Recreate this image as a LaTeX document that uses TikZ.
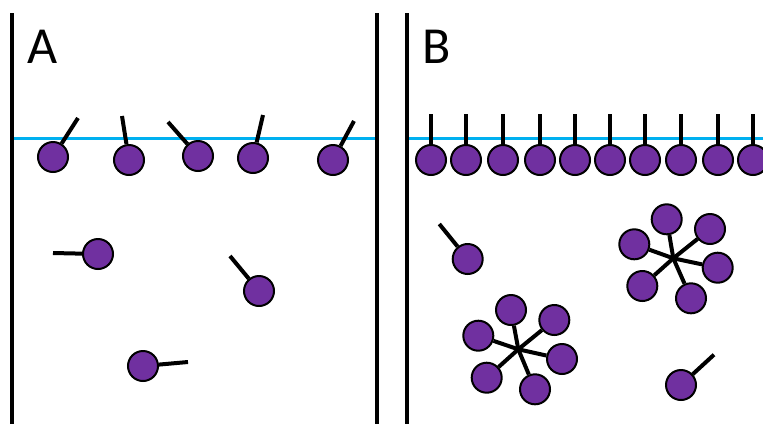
\documentclass[tikz,border=0pt]{standalone}
\usepackage{fontspec}
\setmainfont{Carlito}
\definecolor{headfill}{HTML}{7030A0}
\definecolor{surface}{HTML}{00B0F0}
\begin{document}
\begin{tikzpicture}[x=1pt,y=-1pt,
  head/.style={circle,draw=black,line width=2pt,fill=headfill,minimum size=30pt,inner sep=0pt},
  tail/.style={line width=4pt,black},
  wall/.style={line width=3.3pt,black},
  water/.style={line width=3pt,surface},
  panel/.style={font=\fontsize{52}{52}\selectfont,anchor=base west,inner sep=0pt}]
\useasboundingbox (0,0) rectangle (763,424);

% container walls
\coordinate (wA1) at (12,13);  \coordinate (wA2) at (12,424);
\coordinate (wB1) at (377,13); \coordinate (wB2) at (377,424);
\coordinate (wC1) at (407,13); \coordinate (wC2) at (407,424);
\draw[wall] (wA1) -- (wA2);
\draw[wall] (wB1) -- (wB2);
\draw[wall] (wC1) -- (wC2);

% liquid surfaces
\coordinate (sA1) at (14,138);  \coordinate (sA2) at (375,138);
\coordinate (sB1) at (409,138); \coordinate (sB2) at (763,138);
\draw[water] (sA1) -- (sA2);
\draw[water] (sB1) -- (sB2);

% panel labels
\node[panel] (labA) at (27,63) {A};
\node[panel] (labB) at (422,63) {B};

% panel A: molecules at the surface and in the bulk
\foreach \x/\y/\tx/\ty [count=\i] in {
  53/157/78/118, 129/160/122/116, 198/156/168/122, 253/158/263/115, 333/160/354/121,
  98/254/53/253, 259/291/230/256, 143/366/188/362} {
  \node[head] (a\i) at (\x,\y) {};
  \coordinate (at\i) at (\tx,\ty);
  \draw[tail] (a\i) -- (at\i);
}

% panel B: packed surface layer
\foreach \x [count=\i] in {431,466,503,540,575,610,645,681,718,753} {
  \node[head] (b\i) at (\x,160) {};
  \coordinate (bt\i) at (\x,114);
  \draw[tail] (b\i) -- (bt\i);
}

% panel B: free molecules
\foreach \x/\y/\tx/\ty [count=\i] in {467.7/259/439.3/224, 681/385/714/354.7} {
  \node[head] (f\i) at (\x,\y) {};
  \coordinate (ft\i) at (\tx,\ty);
  \draw[tail] (f\i) -- (ft\i);
}

% panel B: micelles
\coordinate (m1) at (673.3,258.3);
\foreach \x/\y [count=\i] in {666.7/219.3, 710/229, 717.7/267.7, 691/298.3, 642.3/286, 634.3/244.3} {
  \node[head] (m1h\i) at (\x,\y) {};
  \draw[tail] (m1) -- (m1h\i);
}
\coordinate (m2) at (518.3,349.3);
\foreach \x/\y [count=\i] in {511/310, 554.3/320, 562/359, 535/389.3, 486.7/377.7, 478.3/335.7} {
  \node[head] (m2h\i) at (\x,\y) {};
  \draw[tail] (m2) -- (m2h\i);
}
\end{tikzpicture}
\end{document}
